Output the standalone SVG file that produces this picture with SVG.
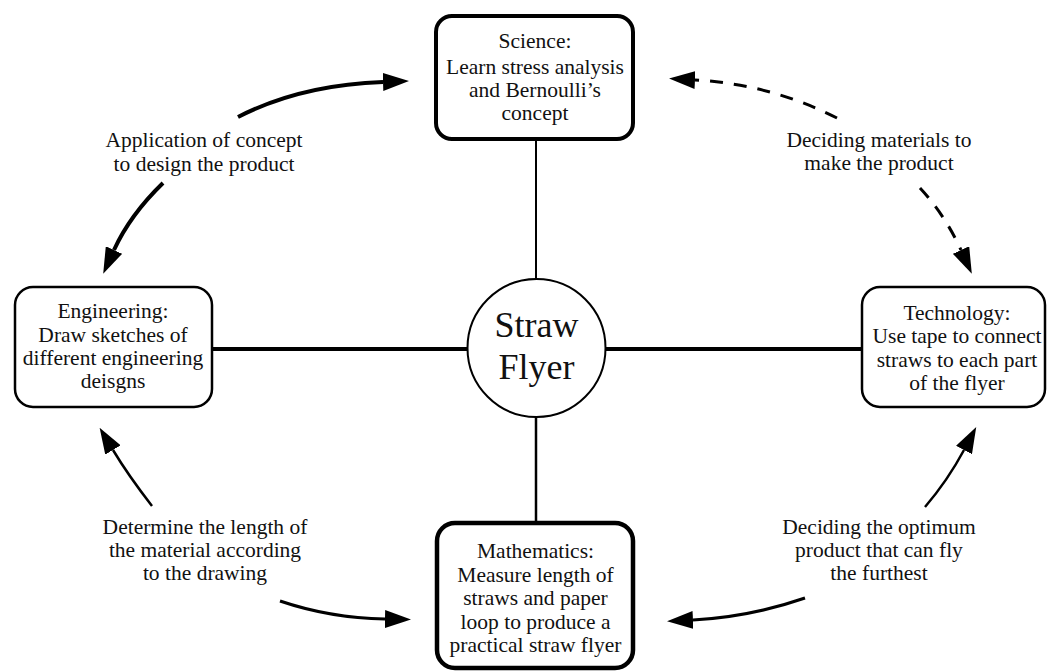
<svg xmlns="http://www.w3.org/2000/svg" width="1047" height="671" viewBox="0 0 1047 671">
<defs>
<style>
.t{font-family:"Liberation Serif","Times New Roman",serif;font-size:21.5px;fill:#111;text-anchor:middle}
.big{font-family:"Liberation Serif","Times New Roman",serif;font-size:36px;fill:#111;text-anchor:middle}
.box{fill:#fff;stroke:#000}
.ln{stroke:#000;fill:none}
.arr{stroke:#000;fill:none;marker-end:url(#ah)}
</style>
<marker id="ah" markerUnits="userSpaceOnUse" markerWidth="26" markerHeight="18" viewBox="0 0 26 18" refX="0" refY="9" orient="auto">
<path d="M0,0 L26,9 L0,18 z" fill="#000"/>
</marker>
</defs>
<rect width="1047" height="671" fill="#fff"/>
<g id="connectors">
<line class="ln" x1="536" y1="139" x2="536" y2="279" stroke-width="2"/>
<line class="ln" x1="212" y1="349" x2="467" y2="349" stroke-width="4"/>
<line class="ln" x1="606" y1="349" x2="862" y2="349" stroke-width="4"/>
<line class="ln" x1="536" y1="417" x2="536" y2="523" stroke-width="2.5"/>
<path class="arr" d="M238,117 Q300,85 383,82" stroke-width="4"/>
<path class="arr" d="M163,183 Q130,215 114,250" stroke-width="4"/>
<path class="arr" d="M837,118 Q770,84 695,80" stroke-width="3" stroke-dasharray="13 11"/>
<path class="arr" d="M920,188 Q945,215 961,250" stroke-width="3" stroke-dasharray="13 11"/>
<path class="arr" d="M152,506 Q128,475 113,450" stroke-width="2.5"/>
<path class="arr" d="M280,601 Q330,618 385,619" stroke-width="3"/>
<path class="arr" d="M925,507 Q948,480 964,450" stroke-width="2.5"/>
<path class="arr" d="M805,598 Q750,617 693,620" stroke-width="3"/>
</g>
<g id="labels">
<text class="t" x="204" y="147">Application of concept</text>
<text class="t" x="204" y="171">to design the product</text>
<text class="t" x="879" y="147">Deciding materials to</text>
<text class="t" x="879" y="170">make the product</text>
<text class="t" x="205" y="534">Determine the length of</text>
<text class="t" x="205" y="557">the material according</text>
<text class="t" x="205" y="580">to the drawing</text>
<text class="t" x="879" y="534">Deciding the optimum</text>
<text class="t" x="879" y="557">product that can fly</text>
<text class="t" x="879" y="580">the furthest</text>
</g>
<g id="science">
<rect class="box" x="436" y="16" width="197" height="123" rx="16" stroke-width="4"/>
<text class="t" x="535" y="48">Science:</text>
<text class="t" x="535" y="73.5">Learn stress analysis</text>
<text class="t" x="535" y="97">and Bernoulli’s</text>
<text class="t" x="535" y="120">concept</text>
</g>
<g id="engineering">
<rect class="box" x="15" y="287" width="197" height="120" rx="18" stroke-width="2.5"/>
<text class="t" x="113" y="318">Engineering:</text>
<text class="t" x="113" y="342">Draw sketches of</text>
<text class="t" x="113" y="365">different engineering</text>
<text class="t" x="113" y="388">deisgns</text>
</g>
<g id="technology">
<rect class="box" x="862" y="287" width="183" height="120" rx="18" stroke-width="2.5"/>
<text class="t" x="957" y="320">Technology:</text>
<text class="t" x="957" y="343">Use tape to connect</text>
<text class="t" x="957" y="367">straws to each part</text>
<text class="t" x="957" y="390">of the flyer</text>
</g>
<g id="mathematics">
<rect class="box" x="437" y="523" width="196" height="145" rx="18" stroke-width="4.5"/>
<text class="t" x="535.5" y="558">Mathematics:</text>
<text class="t" x="535.5" y="581.5">Measure length of</text>
<text class="t" x="535.5" y="605">straws and paper</text>
<text class="t" x="535.5" y="628.5">loop to produce a</text>
<text class="t" x="535.5" y="652">practical straw flyer</text>
</g>
<g id="center">
<circle cx="536.5" cy="348" r="69" fill="#fff" stroke="#000" stroke-width="2"/>
<text class="big" x="536.5" y="337">Straw</text>
<text class="big" x="536.5" y="379">Flyer</text>
</g>
</svg>
